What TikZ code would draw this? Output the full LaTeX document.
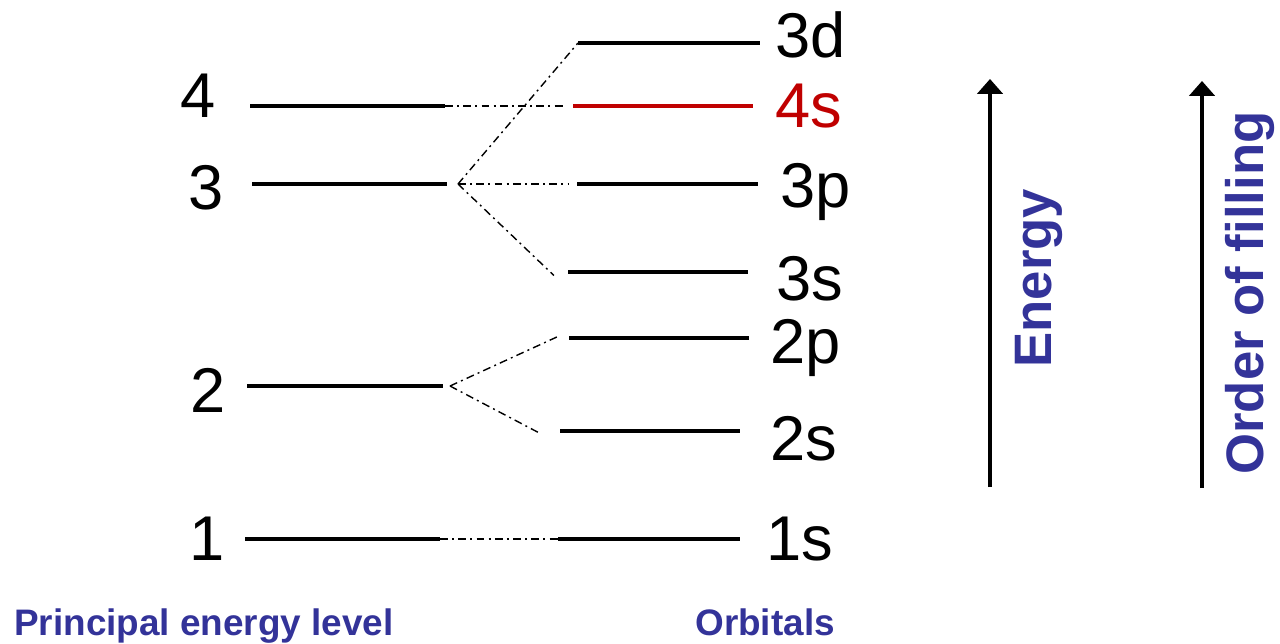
\documentclass[tikz,border=0pt]{standalone}
\usepackage{fontspec}
\setmainfont{Liberation Sans}
\usetikzlibrary{arrows.meta}
\definecolor{lblue}{RGB}{51,51,153}
\definecolor{ored}{RGB}{192,0,0}
\tikzset{
  lvl/.style={line width=2pt, black},
  redlvl/.style={line width=2pt, ored},
  dd/.style={line width=0.8pt, dash pattern=on 4.5pt off 2.4pt on 1.1pt off 2.4pt},
  num/.style={font=\fontsize{36}{40}\selectfont, anchor=base, inner sep=0pt},
  orb/.style={font=\fontsize{36}{40}\selectfont, anchor=base west, inner sep=0pt},
  axislbl/.style={font=\bfseries\fontsize{30}{34}\selectfont, text=lblue, anchor=base west, inner sep=0pt, rotate=90},
  bottomlbl/.style={font=\bfseries\fontsize{21}{24}\selectfont, text=lblue, anchor=base west, inner sep=0pt},
  axisarrow/.style={line width=1.8pt, -{Triangle[width=14.5pt,length=8.5pt]}}
}
\begin{document}
\begin{tikzpicture}[x=0.02cm,y=-0.02cm]
\useasboundingbox (0,0) rectangle (1280,643);
% principal level line ends
\coordinate (L4a) at (250,106); \coordinate (L4b) at (445,106);
\coordinate (L3a) at (252,184); \coordinate (L3b) at (447,184);
\coordinate (L2a) at (247,386); \coordinate (L2b) at (443,386);
\coordinate (L1a) at (245,539); \coordinate (L1b) at (440,539);
% fan points
\coordinate (F3) at (458,184);
\coordinate (F2) at (450,386);
% orbital line ends
\coordinate (O3da) at (578,43);  \coordinate (O3db) at (760,43);
\coordinate (O4sa) at (573,106); \coordinate (O4sb) at (753,106);
\coordinate (O3pa) at (577,184); \coordinate (O3pb) at (758,184);
\coordinate (O3sa) at (568,272); \coordinate (O3sb) at (748,272);
\coordinate (O2pa) at (569,338); \coordinate (O2pb) at (749,338);
\coordinate (O2sa) at (560,431); \coordinate (O2sb) at (740,431);
\coordinate (O1sa) at (558,539); \coordinate (O1sb) at (740,539);
% level lines
\draw[lvl] (L4a) -- (L4b);
\draw[lvl] (L3a) -- (L3b);
\draw[lvl] (L2a) -- (L2b);
\draw[lvl] (L1a) -- (L1b);
% orbital lines
\draw[lvl] (O3da) -- (O3db);
\draw[redlvl] (O4sa) -- (O4sb);
\draw[lvl] (O3pa) -- (O3pb);
\draw[lvl] (O3sa) -- (O3sb);
\draw[lvl] (O2pa) -- (O2pb);
\draw[lvl] (O2sa) -- (O2sb);
\draw[lvl] (O1sa) -- (O1sb);
% dash-dot connectors
\draw[dd] (L4b) -- ([xshift=-5]O4sa);
\draw[dd] (F3) -- (O3da);
\draw[dd] (F3) -- ([xshift=-5]O3pa);
\draw[dd] (F3) -- ([xshift=-8,yshift=-2]O3sa);
\draw[dd] (F2) -- ([xshift=-6,yshift=1]O2pa);
\draw[dd] (F2) -- ([xshift=-12,yshift=-1]O2sa);
\draw[dd] (L1b) -- (O1sa);
% level numbers
\node[num] (n4) at (198,117) {4};
\node[num] (n3) at (206,209) {3};
\node[num] (n2) at (208,412) {2};
\node[num] (n1) at (207,560) {1};
% orbital labels
\node[orb] (t3d) at (775,57) {3d};
\node[orb, text=ored] (t4s) at (775,127) {4s};
\node[orb] (t3p) at (780,207) {3p};
\node[orb] (t3s) at (776,300) {3s};
\node[orb] (t2p) at (770,363) {2p};
\node[orb] (t2s) at (770,460) {2s};
\node[orb] (t1s) at (766,560) {1s};
% axes
\coordinate (Ea) at (990,487); \coordinate (Eb) at (990,79);
\coordinate (Fa) at (1202,488); \coordinate (Fb) at (1202,81);
\draw[axisarrow] (Ea) -- (Eb);
\draw[axisarrow] (Fa) -- (Fb);
\node[axislbl] (energy) at (1051,368) {Energy};
\node[axislbl] (order) at (1263,475) {Order of filling};
% bottom labels
\node[bottomlbl] (pel) at (14,635) {Principal energy level};
\node[bottomlbl] (orbs) at (695,635) {Orbitals};
\end{tikzpicture}
\end{document}
